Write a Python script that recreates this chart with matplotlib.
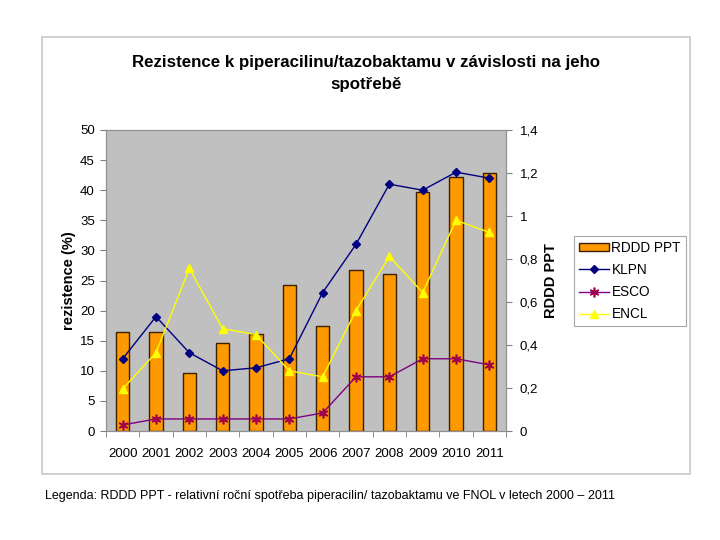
import matplotlib
matplotlib.use('Agg')
import matplotlib.pyplot as plt
from matplotlib.patches import Rectangle
from matplotlib.ticker import FuncFormatter, FixedLocator
import numpy as np

plt.rcParams['font.family'] = ['Liberation Sans', 'DejaVu Sans']

years = ['2000', '2001', '2002', '2003', '2004', '2005',
         '2006', '2007', '2008', '2009', '2010', '2011']
rddd_ppt = [0.46, 0.46, 0.27, 0.41, 0.45, 0.68, 0.49, 0.75, 0.73, 1.11, 1.18, 1.20]
klpn = [12, 19, 13, 10, 10.5, 12, 23, 31, 41, 40, 43, 42]
esco = [1, 2, 2, 2, 2, 2, 3, 9, 9, 12, 12, 11]
encl = [7, 13, 27, 17, 16, 10, 9, 20, 29, 23, 35, 33]

W, H = 720, 540
fig = plt.figure(figsize=(7.2, 5.4), dpi=100)

# outer chart frame
fig.patches.append(Rectangle((42 / W, 1 - 474 / H), 648 / W, 437 / H,
                             transform=fig.transFigure, facecolor='white',
                             edgecolor='#c8c8c8', linewidth=1.2, zorder=-5))

x = np.arange(len(years))

# bars on the right axis (drawn first, lines on top)
ax = fig.add_axes([106 / W, 1 - 431 / H, 400 / W, 301 / H])
ax.set_facecolor('#c0c0c0')
bars = ax.bar(x, rddd_ppt, width=0.4, color='#ff9900', edgecolor='#3a2000',
              linewidth=1.0, label='RDDD PPT')
ax.set_xlim(-0.5, len(years) - 0.5)
ax.set_ylim(0, 1.4)

# lines on the left axis
axl = ax.twinx()

ax.yaxis.tick_right()
ax.yaxis.set_label_position('right')
ax.set_yticks(np.arange(0, 1.41, 0.2))
ax.yaxis.set_major_formatter(FuncFormatter(
    lambda v, p: '0' if abs(v) < 1e-9 else ('%g' % round(v, 1)).replace('.', ',')))
ax.set_ylabel('RDDD PPT', fontsize=10.5, fontweight='bold', labelpad=4)

ax.set_xticks(x)
ax.set_xticklabels(years)
ax.xaxis.set_minor_locator(FixedLocator(np.arange(-0.5, len(years), 1)))
ax.tick_params(axis='x', which='major', length=0, pad=12, labelsize=9.5)
ax.tick_params(axis='x', which='minor', length=4, color='#808080')
ax.tick_params(axis='y', length=4, color='#808080', labelsize=9.5, pad=6)
for s in ax.spines.values():
    s.set_color('#909090')

axl.yaxis.tick_left()
axl.yaxis.set_label_position('left')
axl.set_ylim(0, 50)
axl.set_yticks(np.arange(0, 51, 5))
axl.tick_params(axis='y', length=4, color='#808080', labelsize=9.5, pad=4)
axl.set_ylabel('rezistence (%)', fontsize=10.5, fontweight='bold', labelpad=3)
for s in axl.spines.values():
    s.set_color('#909090')

l1, = axl.plot(x, klpn, color='#000080', marker='D', markersize=4.5,
               linewidth=1.0, label='KLPN')
l2, = axl.plot(x, esco, color='#800080', marker=(6, 2, 0), markersize=7,
               markeredgecolor='#a0004a', markeredgewidth=1.2, linewidth=1.0,
               label='ESCO')
l3, = axl.plot(x, encl, color='#ffff00', marker='^', markersize=6,
               linewidth=1.0, label='ENCL')

fig.text(366 / W, 1 - 62 / H, 'Rezistence k piperacilinu/tazobaktamu v závislosti na jeho',
         ha='center', va='center', fontsize=12.2, fontweight='bold')
fig.text(366 / W, 1 - 84 / H, 'spotřebě', ha='center', va='center',
         fontsize=12.2, fontweight='bold')

leg = fig.legend(handles=[bars, l1, l2, l3], loc='upper left',
                 bbox_to_anchor=(574 / W, 1 - 236 / H), frameon=True,
                 fancybox=False, edgecolor='#909090', fontsize=9.8,
                 handlelength=2.2, handleheight=0.6, labelspacing=0.6,
                 borderpad=0.35, handletextpad=0.2, borderaxespad=0)
leg.get_frame().set_linewidth(0.8)

fig.text(45 / W, 1 - 496 / H,
         'Legenda: RDDD PPT - relativní roční spotřeba piperacilin/ tazobaktamu ve FNOL v letech 2000 – 2011',
         ha='left', va='center', fontsize=9)

fig.savefig('out.png', dpi=100)
